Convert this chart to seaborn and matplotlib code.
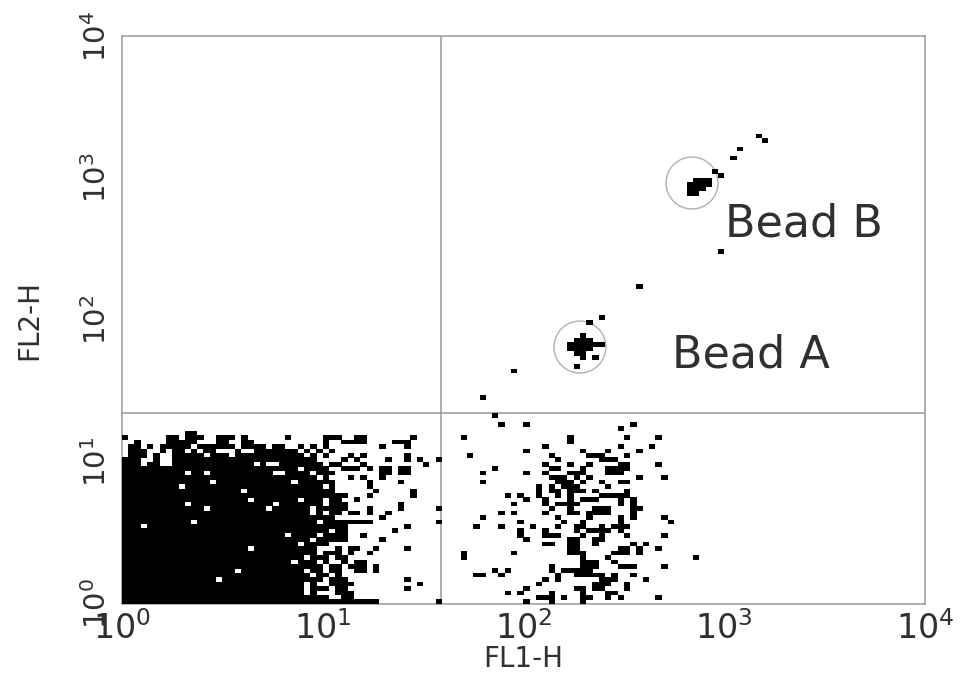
import numpy as np
import pandas as pd
import matplotlib
matplotlib.use("Agg")
import matplotlib.pyplot as plt
from matplotlib.path import Path
import seaborn as sns

# Events: 128 channels over four decades on each axis.
block_right_edge = [40, 36, 36, 35, 36, 35, 34, 31, 31, 30, 32, 34, 34, 32, 35, 35, 35,
                    35, 36, 34, 34, 35, 35, 33, 33, 33, 33, 33, 32, 33, 32, 31, 30]
block_holes = {
    1: [33, 34], 2: [29, 31, 32, 33], 3: [29, 33], 4: [29, 31, 32], 5: [15, 32], 6: [30, 33],
    7: [18, 29], 9: [27], 10: [29], 11: [31], 12: [20, 31, 32, 33], 13: [28], 14: [30],
    15: [26, 31], 16: [33], 17: [3], 18: [11, 31], 19: [34], 20: [30, 32], 21: [13, 23, 30],
    22: [10, 24, 32], 23: [20, 28, 32], 25: [19], 26: [9, 32], 27: [14, 27], 28: [31],
    29: [10, 13, 24, 25, 30], 30: [28], 31: [3, 6, 7, 21, 23, 24], 32: [3, 4, 6, 7],
}
low_left_extra = {
    0: [50], 3: [45], 4: [47], 5: [45], 7: [33, 34, 37, 38, 40], 8: [33, 34, 36, 37, 38, 40],
    9: [32, 35, 37, 38], 10: [34, 35], 11: [36, 39], 12: [36, 37, 40, 45], 14: [41], 15: [38],
    16: [43], 17: [45], 18: [37, 38, 39, 50], 19: [41], 20: [36, 37, 39, 42],
    21: [39, 44, 50], 22: [44], 23: [34, 37], 24: [34, 35, 39, 46], 25: [40, 46], 26: [39],
    27: [39, 44], 28: [36, 38, 41], 29: [41, 42, 44, 45],
    30: [35, 36, 37, 39, 41, 42, 44, 45], 31: [33, 34, 38, 48], 32: [35, 37, 42, 45, 47, 50],
    33: [1, 2, 3, 5, 8, 9, 10, 11, 12, 14, 15, 16, 18, 19, 20, 21, 22, 23, 24, 25, 26, 27, 28,
         30, 32, 36, 38, 45],
    34: [1, 2, 3, 6, 8, 9, 11, 13, 14, 18, 21, 22, 23, 24, 25, 26, 27, 29, 31, 33],
    35: [1, 2, 4, 6, 7, 8, 9, 10, 12, 13, 14, 15, 16, 17, 19, 20, 21, 22, 24, 25, 28, 30, 32, 41, 45],
    36: [2, 7, 8, 9, 10, 11, 15, 16, 19, 20, 32, 35, 36, 37, 38, 43, 44, 45],
    37: [0, 7, 8, 10, 11, 12, 15, 16, 17, 19, 26, 32, 33, 34, 37, 38, 46],
    38: [10, 11],
}
low_right_events = {
    0: [64, 68, 73], 1: [66, 67, 68, 70, 73, 74, 77, 79, 85], 2: [61, 63, 68, 73, 77, 78],
    3: [64, 72, 73, 75, 76, 80], 4: [66, 75, 76, 77, 80], 5: [67, 69, 76, 77, 78, 83],
    6: [56, 57, 60, 69, 72, 73, 74, 75, 76, 78, 81], 7: [59, 61, 68, 70, 71, 72, 73, 74],
    8: [68, 73, 74, 75, 79, 80, 81, 86], 9: [73, 74, 75, 78], 10: [54, 73, 77, 91],
    11: [54, 62, 71, 72, 73, 78, 79, 80, 82], 12: [71, 72, 79, 80, 82, 85],
    13: [67, 68, 71, 72, 75, 81, 83], 14: [64, 71, 72, 75, 76],
    15: [63, 67, 68, 69, 73, 76, 80, 86], 16: [63, 67, 72, 74, 75, 76, 77, 79],
    17: [56, 60, 65, 69, 72, 73, 76, 78, 79, 80], 18: [63, 70, 73, 79, 87],
    19: [57, 69, 74, 79, 81, 86], 20: [60, 62, 67, 71, 72, 74, 75, 76, 77, 81],
    21: [68, 71, 75, 76, 77, 81, 82], 22: [62, 67, 69, 70, 71, 72, 79, 81],
    23: [64, 67, 71, 73, 74, 75, 79, 81], 24: [61, 63, 66, 69, 71, 76, 77, 78, 79, 80],
    25: [66, 68, 69, 71, 72, 73, 75, 80], 26: [66, 68, 70, 71, 72, 77],
    27: [57, 69, 70, 71, 73, 76, 79, 80], 28: [68, 69, 70, 72, 74, 82, 86],
    29: [57, 64, 67, 71, 72, 73, 77, 78, 79], 30: [59, 68, 69, 73, 77, 78, 79, 80],
    31: [67, 71, 74, 79, 80, 85], 32: [69, 76, 77, 78], 33: [55, 68, 74, 75, 76, 80],
    34: [64, 73, 77, 82], 35: [67, 79, 84], 36: [71], 37: [54, 71, 80, 85], 39: [79],
    40: [60, 64, 81], 42: [59],
}
bead_events = {
    46: [57], 52: [62], 53: [72], 55: [73, 75], 56: [72, 73], 57: [71, 72, 73, 74],
    58: [71, 72, 73, 74, 75, 76], 59: [72, 73, 74], 60: [73], 63: [74], 64: [76], 71: [82],
    79: [95], 92: [90, 91], 93: [90, 91, 92], 94: [90, 91, 92, 93], 95: [91, 92, 93], 96: [95],
    97: [94], 100: [97], 102: [98], 104: [102], 105: [101],
}
quadrant_fl1 = 38.8
quadrant_fl2 = 22.1
gate_fl1 = [191, 691]
gate_fl2 = [64.5, 922]
bead_names = ["Bead A", "Bead B"]
bead_label_fl1 = [550, 1010]
bead_label_fl2 = [57, 474]
decades = [1, 10, 100, 1000, 10000]
decade_labels = [r"$\mathregular{10^{%d}}$" % n for n in range(5)]

CHANNELS_PER_DECADE = 32

cells = set()
for row, right in enumerate(block_right_edge):
    holes = block_holes.get(row, [])
    cells.update((c, row) for c in range(right + 1) if c not in holes)
for table in (low_left_extra, low_right_events, bead_events):
    for row, cols in table.items():
        cells.update((c, row) for c in cols)
cells = sorted(cells)
events = pd.DataFrame({
    "FL1-H": [10 ** ((c + 0.5) / CHANNELS_PER_DECADE) for c, _ in cells],
    "FL2-H": [10 ** ((r + 0.5) / CHANNELS_PER_DECADE) for _, r in cells],
})

sns.set_theme(style="white")
plt.rcParams["font.family"] = ["DejaVu Sans"]
plt.rcParams["mathtext.default"] = "regular"

fig = plt.figure(figsize=(9.61, 6.73), dpi=100)
ax = fig.add_axes([122 / 961, 1 - 604 / 673, 803 / 961, 568 / 673])

grey = "#a0a0a0"
text_grey = "#303030"
cell = Path([(-0.5, -0.36), (0.5, -0.36), (0.5, 0.36), (-0.5, 0.36), (-0.5, -0.36)], closed=True)

sns.scatterplot(data=events, x="FL1-H", y="FL2-H", marker=cell, s=21.5, color="black",
                linewidth=0, edgecolor="none", ax=ax, zorder=3, clip_on=True)
gates = pd.DataFrame({"FL1-H": gate_fl1, "FL2-H": gate_fl2})
ax.scatter(gates["FL1-H"], gates["FL2-H"], s=1400, facecolors="none", edgecolors="#b0b0b0",
           linewidths=1.0, zorder=2)

ax.set_xscale("log")
ax.set_yscale("log")
ax.set_xlim(1, 10000)
ax.set_ylim(1, 10000)
ax.axvline(quadrant_fl1, color=grey, lw=1.2, zorder=1)
ax.axhline(quadrant_fl2, color=grey, lw=1.2, zorder=1)

ax.set_xticks(decades)
ax.set_xticklabels(decade_labels, fontsize=24, color=text_grey)
ax.set_yticks(decades)
ax.set_yticklabels(decade_labels, fontsize=21, color=text_grey, rotation=90, va="center")
ax.minorticks_off()
ax.tick_params(axis="x", length=0, pad=5)
ax.tick_params(axis="y", length=0, pad=7)
for spine in ax.spines.values():
    spine.set_color(grey)
    spine.set_linewidth(1.2)

ax.set_xlabel("FL1-H", fontsize=20, color=text_grey, va="center")
ax.set_ylabel("FL2-H", fontsize=20, color=text_grey, va="center")
ax.xaxis.set_label_coords(0.5, -0.097)
ax.yaxis.set_label_coords(-0.115, 0.5)

for name, xv, yv in zip(bead_names, bead_label_fl1, bead_label_fl2):
    ax.text(xv, yv, name, fontsize=32, color=text_grey, ha="left", va="center", zorder=4)

fig.savefig("out.png", dpi=100)
